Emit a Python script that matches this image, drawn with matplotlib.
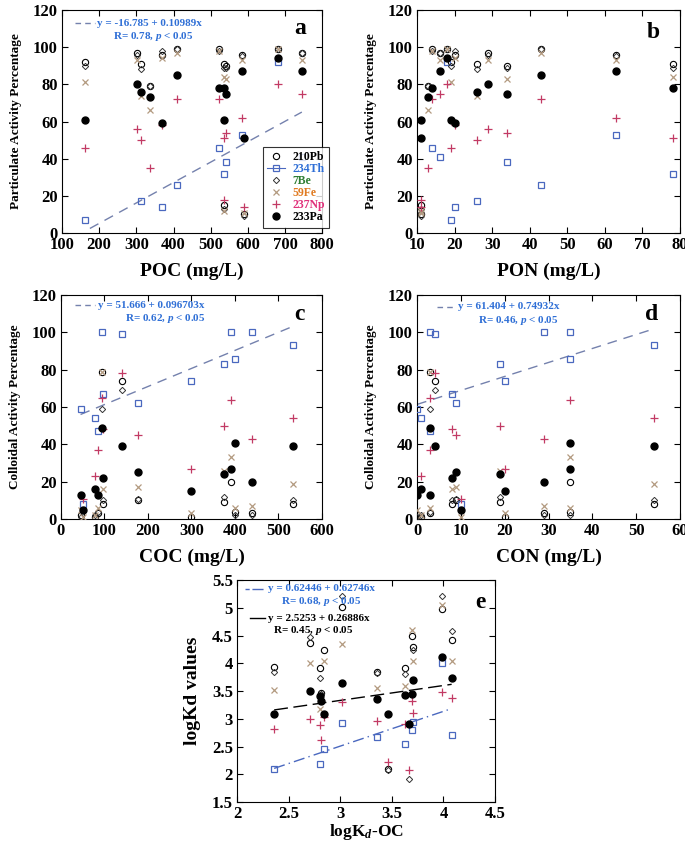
import numpy as np
import matplotlib
matplotlib.use("Agg")
import matplotlib.pyplot as plt
from matplotlib.lines import Line2D
from matplotlib.ticker import FuncFormatter

plt.rcParams['font.family'] = ['Liberation Serif', 'DejaVu Serif']
plt.rcParams['font.weight'] = 'bold'
plt.rcParams['mathtext.fontset'] = 'custom'
plt.rcParams['mathtext.rm'] = 'Liberation Serif:bold'
plt.rcParams['mathtext.it'] = 'Liberation Serif:bold:italic'

nan = np.nan

# particulate fractions (%), panels a and b
POC = [162, 302, 312, 338, 368, 410, 522, 535, 535, 540, 584, 590, 680, 745]
PON = [19, 29, 26, 13, 20, 43, 14, 78, 11, 34, 63, 11, 18, 16]
pb_p = [92, 97, 91, 79, 96, 99, 99, 91, 15, 90, 96, 10, 99, 97]
th_p = [7, nan, 17, nan, 14, 26, 46, 32, nan, 38, 53, nan, 92, 41]
be_p = [90, 96, 88, 79, 98, 99, 98, 89, 13, 89, 95, 9, 99, 97]
fe_p = [81, 93, 74, 66, 94, 97, 98, 84, 12, 83, 93, 11, 99, 93]
np_p = [46, 56, 50, 35, 58, 72, 72, 51, 18, 54, 62, 14, 80, 75]
pa_p = [61, 80, 76, 73, 59, 85, 78, 78, 61, 75, 87, 51, 94, 87]

# colloidal fractions (%), panels c and d
COC = [45, 50, 78, 84, 95, 97, 140, 178, 298, 375, 390, 400, 440, 533]
CON = [0, 10, 1, 3, 3, 8, 4, 9, 20, 19, 35, 35, 29, 54]
pb_c = [2, nan, 1, 3, 79, 8, 74, 10, 1, 9, 20, 4, 3, 8]
th_c = [59, 8, 54, 47, 100, 67, 99, 62, 74, 83, 100, 86, 100, 93]
be_c = [1, nan, 2, 4, 59, 10, 69, 11, nan, 12, nan, 2, 2, 10]
fe_c = [5, 1, 2, 6, 79, 16, nan, 17, 3, 26, 33, 6, 7, 19]
np_c = [nan, 11, 23, 37, 65, 48, 78, 45, 27, 50, 64, nan, 43, 54]
pa_c = [13, 5, 16, 13, 49, 22, 39, 25, 15, 24, 27, 41, 20, 39]

# logKd vs logKd-OC, panel e
kdoc = [2.36, 2.71, 2.80, 2.81, 2.84, 3.02, 3.36, 3.46, 3.63, 3.67, 3.70, 3.71, 3.99, 4.08]
pb_k = [3.94, 4.37, 3.91, 3.47, 4.25, 5.01, 3.84, 2.10, 3.91, nan, 4.50, 4.30, 4.99, 4.43]
th_k = [2.10, nan, 2.18, nan, 2.46, 2.92, 2.68, nan, 2.54, nan, 2.80, 2.94, 4.00, 2.71]
be_k = [3.84, 4.48, 3.73, 3.45, nan, 5.22, 3.83, 2.07, 3.81, 1.91, nan, 4.25, 5.22, 4.58]
fe_k = [3.52, 4.00, 3.18, nan, 4.05, 4.35, 3.56, nan, 3.59, nan, 4.60, 4.05, 5.05, 4.05]
np_k = [2.82, 3.00, 2.89, 2.62, 3.03, 3.31, 2.96, 2.22, 2.90, 2.07, 3.33, 3.11, 3.48, 3.37]
pa_k = [3.09, 3.51, 3.41, 3.33, 3.08, 3.64, 3.36, 3.09, 3.43, 2.91, 3.45, 3.70, 4.12, 3.73]

isotopes = ['210Pb', '234Th', '7Be', '59Fe', '237Np', '233Pa']
label_colors = ['black', '#2f6fd6', '#2e7d32', '#e07b22', '#e0307a', 'black']

blue = '#4a68bf'
trend_c = '#7481ad'
tan = '#b39a80'
crimson = '#c23a64'
txt_blue = '#2f6fd6'

styles = [
    dict(marker='o', mfc='none', mec='black', ms=4.5, mew=0.8),
    dict(marker='s', mfc='none', mec=blue, ms=5, mew=0.9),
    dict(marker='D', mfc='none', mec='#333333', ms=3.2, mew=0.7),
    dict(marker='x', mec=tan, ms=5, mew=0.9),
    dict(marker='+', mec=crimson, ms=6, mew=0.9),
    dict(marker='o', mfc='black', mec='black', ms=5),
]


def draw_points(ax, x, series):
    for ys, st in zip(series, styles):
        ax.plot(x, ys, linestyle='none', **st, zorder=3)


def style_axes(ax, xlim, xticks, ylim, yticks, xlabel, ylabel, letter, lx, ly):
    ax.set_xlim(xlim)
    ax.set_ylim(ylim)
    ax.set_xticks(xticks)
    ax.set_yticks(yticks)
    fmt = FuncFormatter(lambda v, p: '%g' % v)
    ax.xaxis.set_major_formatter(fmt)
    ax.yaxis.set_major_formatter(fmt)
    ax.tick_params(direction='in', top=True, right=True, labelsize=12, length=4, width=0.8, pad=3)
    for lab in ax.get_xticklabels() + ax.get_yticklabels():
        lab.set_fontweight('bold')
    ax.set_xlabel(xlabel, fontsize=14, fontweight='bold', labelpad=7)
    ax.set_ylabel(ylabel, fontsize=9.5, fontweight='bold', labelpad=8)
    ax.text(lx, ly, letter, transform=ax.transAxes, fontsize=17, fontweight='bold', ha='center', va='center')


def eq_text(ax, x0, x1, y, ls, lcol, tcol, text, tx):
    ax.plot([x0, x1], [y, y], transform=ax.transAxes, ls=ls, color=lcol, lw=1.0, clip_on=False)
    ax.text(tx, y, text, transform=ax.transAxes, color=tcol, fontsize=8, fontweight='bold',
            ha='left', va='center')


def r_text(ax, x, y, text, col):
    ax.text(x, y, text, transform=ax.transAxes, color=col, fontsize=8, fontweight='bold',
            ha='left', va='center')


def fit_line(ax, x, a, b, ls, col):
    xs = np.array([np.nanmin(x), np.nanmax(x)])
    ax.plot(xs, a + b * xs, ls=ls, color=col, lw=1.0, zorder=2)


fig = plt.figure(figsize=(6.85, 8.43), dpi=100)
ax_a = fig.add_axes([0.0905, 0.7236, 0.380, 0.2645])
ax_b = fig.add_axes([0.6088, 0.7236, 0.384, 0.2645])
ax_c = fig.add_axes([0.0890, 0.3843, 0.381, 0.2657])
ax_d = fig.add_axes([0.6088, 0.3843, 0.384, 0.2657])
ax_e = fig.add_axes([0.3460, 0.0487, 0.3766, 0.2630])

# panel a
draw_points(ax_a, POC, [pb_p, th_p, be_p, fe_p, np_p, pa_p])
fit_line(ax_a, [175, 745], -16.785, 0.10989, (0, (7, 5)), trend_c)
style_axes(ax_a, (100, 800), range(100, 801, 100), (0, 120), range(0, 121, 20),
           'POC (mg/L)', 'Particulate Activity Percentage', 'a', 0.915, 0.915)
eq_text(ax_a, 0.05, 0.125, 0.94, (0, (4, 3)), trend_c, txt_blue, 'y = -16.785 + 0.10989x', 0.135)
r_text(ax_a, 0.196, 0.88, 'R= 0.78, $p$ < 0.05', txt_blue)

handles = []
for i, st in enumerate(styles):
    ls = '-' if i == 1 else 'none'
    handles.append(Line2D([], [], linestyle=ls, color=blue, lw=0.8, **st))
leg = ax_a.legend(handles, isotopes, loc='lower right', bbox_to_anchor=(1.05, -0.005),
                  frameon=True, fancybox=False, edgecolor='black',
                  handlelength=1.5, handletextpad=0.6, labelspacing=0.0, borderpad=0.4,
                  prop={'weight': 'bold', 'size': 8.5})
leg.get_frame().set_linewidth(0.8)
for t, c in zip(leg.get_texts(), label_colors):
    t.set_color(c)

# panel b
draw_points(ax_b, PON, [pb_p, th_p, be_p, fe_p, np_p, pa_p])
style_axes(ax_b, (10, 80), range(10, 81, 10), (0, 120), range(0, 121, 20),
           'PON (mg/L)', 'Particulate Activity Percentage', 'b', 0.90, 0.90)

# panel c
draw_points(ax_c, COC, [pb_c, th_c, be_c, fe_c, np_c, pa_c])
fit_line(ax_c, COC, 51.666, 0.096703, (0, (7, 5)), trend_c)
style_axes(ax_c, (0, 600), range(0, 601, 100), (0, 120), range(0, 121, 20),
           'COC (mg/L)', 'Colloidal Activity Percentage', 'c', 0.915, 0.915)
eq_text(ax_c, 0.054, 0.13, 0.955, (0, (4, 3)), trend_c, txt_blue, 'y = 51.666 + 0.096703x', 0.14)
r_text(ax_c, 0.245, 0.895, 'R= 0.62, $p$ < 0.05', txt_blue)

# panel d
draw_points(ax_d, CON, [pb_c, th_c, be_c, fe_c, np_c, pa_c])
fit_line(ax_d, CON, 61.404, 0.74932, (0, (7, 5)), trend_c)
style_axes(ax_d, (0, 60), range(0, 61, 10), (0, 120), range(0, 121, 20),
           'CON (mg/L)', 'Colloidal Activity Percentage', 'd', 0.89, 0.915)
eq_text(ax_d, 0.076, 0.145, 0.948, (0, (4, 3)), trend_c, txt_blue, 'y = 61.404 + 0.74932x', 0.155)
r_text(ax_d, 0.23, 0.887, 'R= 0.46, $p$ < 0.05', txt_blue)

# panel e
draw_points(ax_e, kdoc, [pb_k, th_k, be_k, fe_k, np_k, pa_k])
fit_line(ax_e, kdoc, 0.62446, 0.62746, (0, (8, 3, 1, 3)), blue)
fit_line(ax_e, kdoc, 2.5253, 0.26886, (0, (10, 4)), 'black')
style_axes(ax_e, (2, 4.5), np.arange(2, 4.51, 0.5), (1.5, 5.5), np.arange(1.5, 5.51, 0.5),
           'logK$_d$-OC', 'logKd values', 'e', 0.945, 0.90)
ax_e.yaxis.label.set_size(14)
ax_e.xaxis.label.set_size(12.5)
ax_e.xaxis.set_label_coords(0.5, -0.092)
eq_text(ax_e, 0.03, 0.11, 0.962, (0, (3, 2, 8, 2)), blue, txt_blue, 'y = 0.62446 + 0.62746x', 0.12)
r_text(ax_e, 0.17, 0.905, 'R= 0.68, $p$ < 0.05', txt_blue)
eq_text(ax_e, 0.05, 0.11, 0.828, '-', 'black', 'black', 'y = 2.5253 + 0.26886x', 0.12)
r_text(ax_e, 0.14, 0.772, 'R= 0.45, $p$ < 0.05', 'black')

fig.savefig('out.png', dpi=100)
